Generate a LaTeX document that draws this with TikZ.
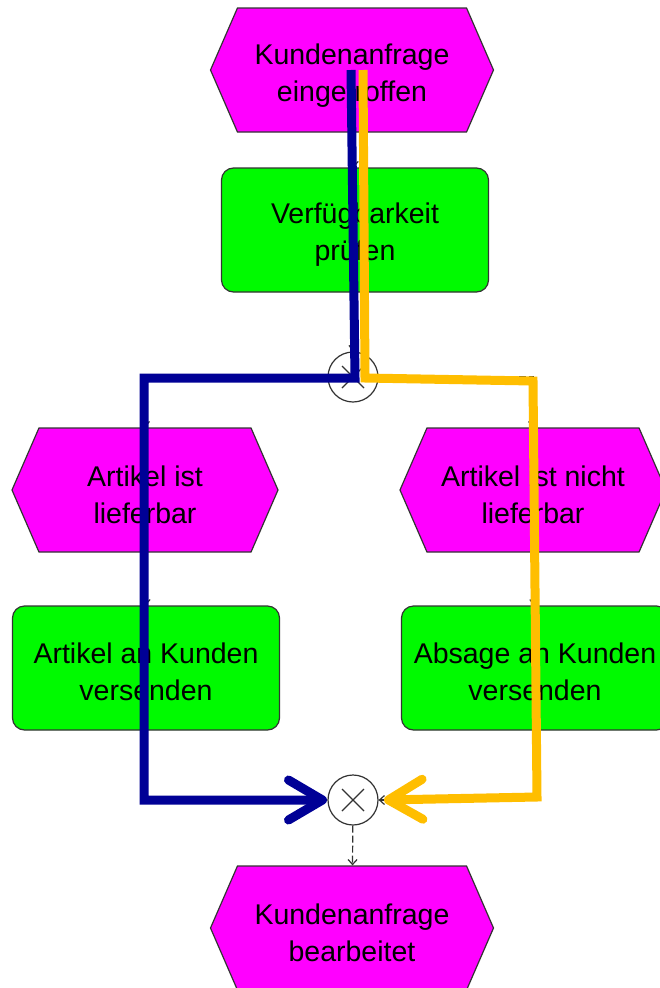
\documentclass[tikz,border=0pt]{standalone}
\usepackage{fontspec}
\setmainfont{Liberation Sans}
\usetikzlibrary{shapes.symbols,arrows.meta,calc}

\definecolor{evmagenta}{RGB}{255,0,255}
\definecolor{fngreen}{RGB}{0,250,0}
\definecolor{routeblue}{RGB}{0,0,150}
\definecolor{routegold}{RGB}{255,190,0}

\tikzset{
  event/.style={shape=signal,signal to=west and east,signal pointer angle=133,
    draw=black!80,fill=evmagenta,line width=1.2pt,inner sep=0pt,
    minimum width=283pt,minimum height=124pt,align=center,
    font=\fontsize{28.5}{37}\selectfont,execute at begin node={\rule{0pt}{68pt}}},
  func/.style={rectangle,rounded corners=12pt,draw=black!80,fill=fngreen,
    line width=1.2pt,inner sep=0pt,minimum width=267pt,minimum height=124pt,
    align=center,font=\fontsize{28.5}{37}\selectfont,execute at begin node={\rule{0pt}{66pt}}},
  xor/.style={circle,draw=black!80,line width=1.2pt,minimum size=50pt,inner sep=0pt,
    path picture={\draw[line width=1.2pt] ($(path picture bounding box.center)+(-11,-11)$) -- ($(path picture bounding box.center)+(11,11)$)
      ($(path picture bounding box.center)+(-11,11)$) -- ($(path picture bounding box.center)+(11,-11)$);}},
  flow/.style={draw=black!80,line width=1.2pt,dash pattern=on 7pt off 3pt,
    -{Straight Barb[length=5pt,width=9pt]}},
  route/.style={line width=9pt,line join=miter,line cap=butt,
    -{Straight Barb[length=34pt,width=40pt,round]}}
}

\begin{document}
\begin{tikzpicture}[x=1pt,y=-1pt]
\useasboundingbox (0,0) rectangle (660,988);
\clip (0,0) rectangle (660,988);
\fill[white] (0,0) rectangle (660,988);

% process chain
\node[event] (start) at (352,70) {Kundenanfrage\\eingetroffen};
\node[func] (check) at (355,230) {Verfügbarkeit\\prüfen};
\node[xor] (xsplit) at (353,377) {};
\node[event,minimum width=266pt] (okEv) at (145,490) {Artikel ist\\lieferbar};
\node[event,minimum width=266pt] (noEv) at (533,490) {Artikel ist nicht\\lieferbar};
\node[func] (okFn) at (146,668) {Artikel an Kunden\\versenden};
\node[func] (noFn) at (535,668) {Absage an Kunden\\versenden};
\node[xor] (xjoin) at (353,800) {};
\node[event] (done) at (352,928) {Kundenanfrage\\bearbeitet};

\draw[flow] (start) -- (check);
\draw[flow] (check) -- (xsplit);
\draw[flow] (xsplit) -| (okEv);
\draw[flow] (xsplit) -| (noEv);
\draw[flow] (okEv) -- (okFn);
\draw[flow] (noEv) -- (noFn);
\draw[flow] (okFn) |- (xjoin);
\draw[flow] (noFn) |- (xjoin);
\draw[flow] (xjoin) -- (done);

% marked paths
\coordinate (b0) at (351,70);
\coordinate (b1) at (355,378);
\coordinate (b2) at (144,378);
\coordinate (b3) at (144,800);
\coordinate (b4) at (327,800);
\draw[route,routeblue] (b0) -- (b1) -- (b2) -- (b3) -- (b4);

\coordinate (g0) at (363,70);
\coordinate (g1) at (365,378);
\coordinate (g2) at (533,381);
\coordinate (g3) at (537,797);
\coordinate (g4) at (384,800);
\draw[route,routegold] (g0) -- (g1) -- (g2) -- (g3) -- (g4);
\end{tikzpicture}
\end{document}
